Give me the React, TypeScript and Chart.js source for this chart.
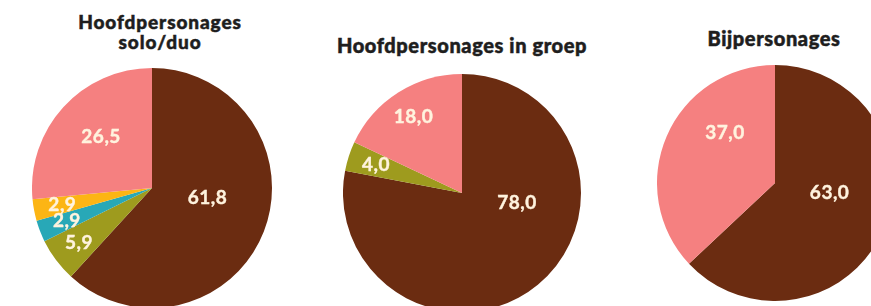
import React, { useEffect, useRef } from "react";
import { Chart, registerables } from "chart.js";

Chart.register(...registerables);

// ---- data ----
const soloDuoTitle = ["Hoofdpersonages", "solo/duo"];
const soloDuoValues = [61.8, 5.9, 2.9, 2.9, 26.5];
const soloDuoColors = ["#6b2c11", "#9e9b1e", "#28a8b7", "#fcb514", "#f58080"];

const groepTitle = ["Hoofdpersonages in groep"];
const groepValues = [78.0, 4.0, 18.0];
const groepColors = ["#6b2c11", "#9e9b1e", "#f58080"];

const bijTitle = ["Bijpersonages"];
const bijValues = [63.0, 37.0];
const bijColors = ["#6b2c11", "#f58080"];

const LABEL_COLOR = "#fff3de";
const TITLE_COLOR = "#1e1e1e";

const fmt = (v: number) => v.toFixed(1).replace(".", ",");

const DEG = Math.PI / 180;

const sliceLabels = {
  id: "sliceLabels",
  afterDatasetsDraw(chart: any) {
    const ctx = chart.ctx as CanvasRenderingContext2D;
    const meta = chart.getDatasetMeta(0);
    const data = chart.data.datasets[0].data as number[];
    const total = data.reduce((a, b) => a + b, 0);
    const last = data.length - 1;
    ctx.save();
    ctx.font = "700 19px Lato";
    (ctx as any).letterSpacing = "0.5px";
    ctx.fillStyle = LABEL_COLOR;
    ctx.strokeStyle = LABEL_COLOR;
    ctx.lineWidth = 0.4;
    ctx.textAlign = "center";
    ctx.textBaseline = "middle";
    meta.data.forEach((arc: any, i: number) => {
      const p = arc.getProps(["x", "y", "startAngle", "endAngle", "outerRadius"], true);
      const share = data[i] / total;
      const mid = (p.startAngle + p.endAngle) / 2;
      let angle = mid;
      if (share > 0.5) angle = Math.min(mid, p.startAngle + 100 * DEG);
      else if (i === last) angle = Math.max(mid, p.endAngle - 45 * DEG);
      const frac = share > 0.5 ? 0.47 : share >= 0.2 ? 0.6 : 0.76;
      const lx = p.x + Math.cos(angle) * p.outerRadius * frac;
      const ly = p.y + Math.sin(angle) * p.outerRadius * frac;
      ctx.fillText(fmt(data[i]), lx, ly);
      ctx.strokeText(fmt(data[i]), lx, ly);
    });
    ctx.restore();
  },
};

type PieProps = {
  values: number[];
  colors: string[];
  title: string[];
  cx: number;
  cy: number;
  r: number;
  titleX: number;
  titleTop: number;
  titleSize: number;
  titleSpacing: number;
};

function Pie({ values, colors, title, cx, cy, r, titleX, titleTop, titleSize, titleSpacing }: PieProps) {
  const ref = useRef<HTMLCanvasElement>(null);
  useEffect(() => {
    const chart = new Chart(ref.current!, {
      type: "pie",
      data: {
        labels: values.map(fmt),
        datasets: [{ data: values, backgroundColor: colors, borderWidth: 0 }],
      },
      options: {
        responsive: false,
        animation: false,
        layout: { padding: 0 },
        plugins: {
          legend: { display: false },
          tooltip: { enabled: false },
          title: { display: false },
        },
      },
      plugins: [sliceLabels as any],
    });
    return () => chart.destroy();
  }, []);
  return (
    <>
      <div
        style={{
          position: "absolute",
          left: titleX - 150,
          top: titleTop,
          width: 300,
          textAlign: "center",
          fontFamily: "Lato",
          fontWeight: 900,
          fontSize: titleSize,
          letterSpacing: titleSpacing,
          lineHeight: "20px",
          color: TITLE_COLOR,
          WebkitTextStroke: `0.5px ${TITLE_COLOR}`,
          whiteSpace: "nowrap",
        }}
      >
        {title.map((t, i) => (
          <div key={i}>{t}</div>
        ))}
      </div>
      <canvas
        ref={ref}
        width={2 * r}
        height={2 * r}
        style={{ position: "absolute", left: cx - r, top: cy - r, width: 2 * r, height: 2 * r }}
      />
    </>
  );
}

export default function App() {
  return (
    <div
      style={{
        position: "fixed",
        left: 0,
        top: 0,
        width: 871,
        height: 306,
        overflow: "hidden",
        background: "#ffffff",
      }}
    >
      <Pie values={soloDuoValues} colors={soloDuoColors} title={soloDuoTitle} cx={152} cy={188} r={120} titleX={160} titleTop={12} titleSize={19} titleSpacing={0.9} />
      <Pie values={groepValues} colors={groepColors} title={groepTitle} cx={462} cy={193} r={119} titleX={462} titleTop={35} titleSize={20} titleSpacing={0.6} />
      <Pie values={bijValues} colors={bijColors} title={bijTitle} cx={775} cy={183} r={118} titleX={774} titleTop={28} titleSize={20} titleSpacing={0.6} />
    </div>
  );
}
